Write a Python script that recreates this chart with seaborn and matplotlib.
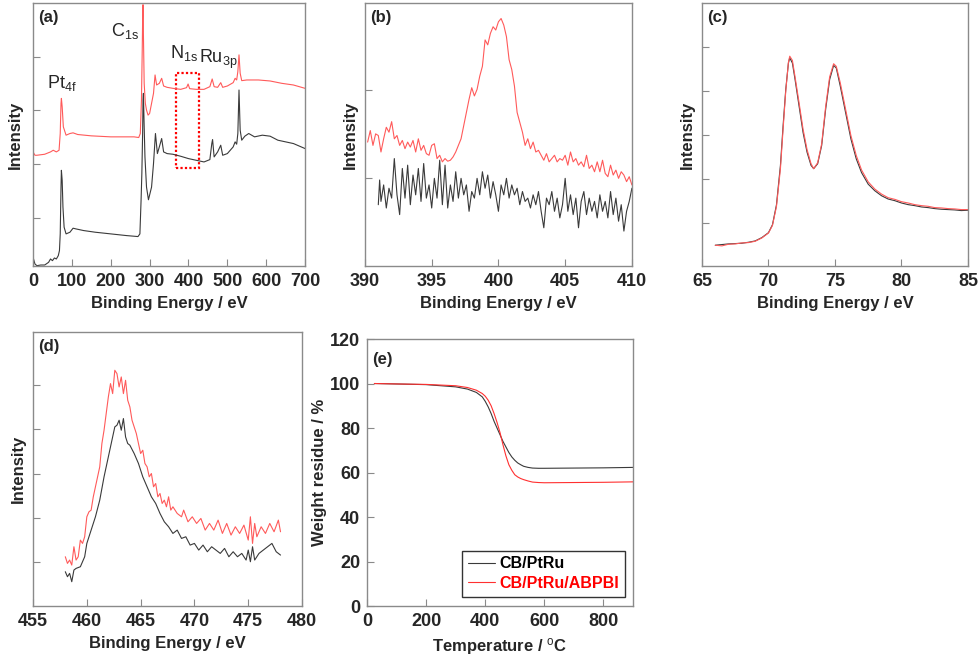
import numpy as np
import pandas as pd
import matplotlib
matplotlib.use("Agg")
import matplotlib.pyplot as plt
import seaborn as sns
from matplotlib.patches import Rectangle

sns.set_style("white")
plt.rcParams['font.family'] = ['Liberation Sans', 'DejaVu Sans']
plt.rcParams['mathtext.fontset'] = 'custom'
plt.rcParams['mathtext.rm'] = 'Liberation Sans'
plt.rcParams['mathtext.it'] = 'Liberation Sans'

BLACK = '#3a3a3a'
RED = '#ff5a5a'

# %% (a) survey spectra
a_x_black = [0, 5, 10, 20, 30, 40, 45, 50, 55, 60, 65, 68, 70, 72, 73, 75, 77, 80, 85, 95, 103, 110, 130, 160,
             200, 240, 270, 275, 278, 280, 282, 283, 284, 286, 288, 292, 297, 305, 310, 315, 320, 325, 331, 336,
             345, 360, 380, 400, 420, 440, 455, 460, 462, 466, 475, 483, 488, 500, 515, 520, 524, 527, 530, 533,
             537, 545, 555, 570, 590, 610, 630, 650, 670, 690, 700]
a_y_black = [230, 210, 205, 207, 207, 215, 225, 220, 228, 225, 235, 250, 300, 440, 490, 460, 380, 320, 300, 305,
             317, 315, 310, 305, 300, 295, 292, 300, 400, 480, 600, 700, 720, 620, 530, 440, 402, 440, 510, 600,
             540, 560, 585, 545, 540, 538, 532, 525, 520, 515, 522, 570, 582, 530, 545, 565, 535, 540, 560, 575,
             568, 600, 730, 610, 580, 592, 600, 590, 595, 592, 580, 575, 570, 560, 555]
a_x_red = [0, 5, 10, 30, 45, 52, 60, 67, 70, 72, 73, 75, 78, 85, 95, 103, 115, 150, 200, 260, 272, 276, 279, 281,
           282, 283, 284, 286, 289, 292, 296, 300, 305, 310, 314, 318, 325, 331, 336, 345, 360, 380, 395, 399, 403,
           420, 440, 455, 461, 466, 475, 483, 488, 500, 515, 520, 524, 527, 530, 533, 537, 550, 580, 610, 640, 670,
           700]
a_y_red = [545, 535, 535, 538, 545, 550, 545, 550, 600, 690, 705, 680, 620, 595, 600, 602, 597, 593, 590, 590, 588,
           600, 700, 850, 940, 985, 900, 750, 690, 670, 655, 660, 690, 720, 775, 745, 750, 765, 742, 738, 735, 732,
           737, 748, 734, 732, 732, 740, 763, 740, 738, 752, 738, 742, 752, 765, 760, 785, 835, 780, 758, 760, 760,
           757, 750, 745, 735]
n1s_box = [369, 426, 497, 782]  # x0, x1, y0, y1 of the dotted box

# %% (b) N1s
b_x_red = [390.2, 390.4, 390.6, 390.8, 391.0, 391.2, 391.4, 391.6, 391.8, 392.0, 392.2, 392.4, 392.6, 392.8, 393.0,
           393.2, 393.4, 393.6, 393.8, 394.0, 394.2, 394.4, 394.6, 394.8, 395.0, 395.2, 395.4, 395.6, 395.8, 396.0,
           396.2, 396.4, 396.6, 396.8, 397.0, 397.2, 397.4, 397.6, 397.8, 398.0, 398.2, 398.4, 398.6, 398.8, 399.0,
           399.2, 399.4, 399.6, 399.8, 400.0, 400.2, 400.4, 400.6, 400.8, 401.0, 401.2, 401.4, 401.6, 401.8, 402.0,
           402.2, 402.4, 402.6, 402.8, 403.0, 403.2, 403.4, 403.6, 403.8, 404.0, 404.2, 404.4, 404.6, 404.8, 405.0,
           405.2, 405.4, 405.6, 405.8, 406.0, 406.2, 406.4, 406.6, 406.8, 407.0, 407.2, 407.4, 407.6, 407.8, 408.0,
           408.2, 408.4, 408.6, 408.8, 409.0, 409.2, 409.4, 409.6, 409.8, 410.0]
b_y_red = [570, 605, 560, 595, 590, 540, 580, 615, 600, 632, 580, 590, 560, 575, 550, 570, 555, 575, 540, 580,
           545, 560, 535, 530, 560, 565, 520, 530, 510, 520, 512, 515, 525, 540, 560, 580, 620, 660, 700, 735,
           710, 730, 770, 800, 880, 865, 900, 920, 910, 935, 945, 925, 890, 820, 790, 740, 660, 630, 600, 560,
           580, 550, 570, 540, 545, 530, 515, 535, 510, 520, 530, 510, 520, 515, 530, 500, 540, 510, 520, 500,
           510, 495, 530, 490, 500, 480, 510, 480, 515, 475, 465, 500, 470, 485, 460, 480, 470, 450, 465, 440]
b_x_black = [391.0, 391.1, 391.2, 391.4, 391.6, 391.8, 392.0, 392.2, 392.4, 392.6, 392.8, 393.0, 393.2, 393.4,
             393.6, 393.8, 394.0, 394.2, 394.4, 394.6, 394.8, 395.0, 395.2, 395.4, 395.6, 395.8, 396.0, 396.2,
             396.4, 396.6, 396.8, 397.0, 397.2, 397.4, 397.6, 397.8, 398.0, 398.2, 398.4, 398.6, 398.8, 399.0,
             399.2, 399.4, 399.6, 399.8, 400.0, 400.2, 400.4, 400.6, 400.8, 401.0, 401.2, 401.4, 401.6, 401.8,
             402.0, 402.2, 402.4, 402.6, 402.8, 403.0, 403.2, 403.4, 403.6, 403.8, 404.0, 404.2, 404.4, 404.6,
             404.8, 405.0, 405.2, 405.4, 405.6, 405.8, 406.0, 406.2, 406.4, 406.6, 406.8, 407.0, 407.2, 407.4,
             407.6, 407.8, 408.0, 408.2, 408.4, 408.6, 408.8, 409.0, 409.2, 409.4, 409.6, 409.8, 410.0]
b_y_black = [380, 455, 390, 440, 370, 430, 400, 520, 410, 350, 490, 400, 500, 380, 470, 410, 490, 390, 505, 400,
             440, 370, 460, 400, 515, 380, 500, 370, 440, 390, 480, 400, 460, 410, 440, 360, 420, 400, 460, 410,
             480, 430, 470, 400, 450, 410, 360, 440, 410, 460, 400, 440, 410, 430, 380, 420, 390, 400, 370, 410,
             380, 420, 360, 310, 400, 380, 420, 360, 400, 340, 380, 460, 360, 410, 350, 400, 310, 390, 420, 350,
             400, 360, 390, 340, 410, 360, 390, 340, 420, 350, 400, 330, 380, 300, 360, 390, 430]

# %% (c) Pt4f
c_x = [66.0, 66.5, 67.0, 67.5, 68.0, 68.5, 69.0, 69.5, 70.0, 70.3, 70.6, 70.9, 71.1, 71.3, 71.5, 71.6, 71.8, 72.0,
       72.3, 72.6, 72.9, 73.2, 73.4, 73.7, 74.0, 74.3, 74.6, 74.9, 75.1, 75.4, 75.8, 76.2, 76.6, 77.0, 77.5, 78.0,
       78.5, 79.0, 79.5, 80.0, 80.5, 81.0, 81.5, 82.0, 82.5, 83.0, 83.5, 84.0, 84.5, 85.0]
c_y_black = [258, 260, 262, 263, 264, 267, 271, 281, 296, 320, 380, 500, 620, 730, 810, 826, 810, 760, 680, 600,
             540, 500, 490, 505, 560, 670, 760, 803, 795, 740, 660, 580, 520, 478, 443, 423, 408, 398, 393, 386,
             381, 378, 374, 372, 369, 367, 366, 365, 363, 364]
c_y_red = [258, 256, 261, 262, 265, 266, 270, 280, 295, 318, 375, 490, 610, 725, 812, 831, 818, 768, 690, 610,
           548, 505, 490, 508, 565, 678, 768, 808, 800, 750, 670, 590, 530, 486, 450, 428, 413, 402, 397, 390,
           386, 381, 378, 376, 372, 371, 369, 368, 366, 366]

# %% (d) Ru3p
d_x_red = [458.0, 458.2, 458.4, 458.6, 458.8, 459.0, 459.2, 459.4, 459.6, 459.8, 460.0, 460.2, 460.4, 460.6, 460.8,
           461.0, 461.2, 461.4, 461.6, 461.8, 462.0, 462.2, 462.4, 462.6, 462.8, 463.0, 463.2, 463.4, 463.6, 463.8,
           464.0, 464.2, 464.4, 464.6, 464.8, 465.0, 465.2, 465.4, 465.6, 465.8, 466.0, 466.2, 466.4, 466.6, 466.8,
           467.0, 467.2, 467.4, 467.6, 467.8, 468.0, 468.4, 468.8, 469.0, 469.4, 469.8, 470.2, 470.6, 471.0, 471.4,
           471.8, 472.2, 472.6, 473.0, 473.4, 473.8, 474.2, 474.6, 475.0, 475.2, 475.4, 475.6, 475.8, 476.2, 476.6,
           477.0, 477.4, 477.8, 478.0]
d_y_red = [320, 300, 310, 295, 350, 310, 320, 370, 360, 380, 440, 455, 460, 500, 530, 560, 590, 660, 700, 750,
           800, 840, 810, 880, 870, 830, 860, 810, 850, 790, 770, 730, 710, 690, 660, 630, 640, 600, 590, 560,
           570, 530, 540, 500, 510, 480, 490, 470, 500, 460, 470, 450, 440, 460, 425, 440, 420, 435, 400, 420,
           400, 430, 390, 420, 385, 410, 390, 415, 370, 440, 360, 420, 380, 410, 390, 420, 395, 430, 395]
d_x_black = [458.0, 458.2, 458.4, 458.6, 458.8, 459.0, 459.4, 459.6, 459.8, 460.0, 460.4, 460.8, 461.2, 461.6,
             462.0, 462.4, 462.6, 462.8, 463.0, 463.2, 463.4, 463.6, 463.8, 464.0, 464.4, 464.8, 465.2, 465.6,
             466.0, 466.4, 466.8, 467.2, 467.6, 468.0, 468.4, 468.8, 469.2, 469.6, 470.0, 470.4, 470.8, 471.2,
             471.6, 472.0, 472.4, 472.8, 473.2, 473.6, 474.0, 474.4, 474.8, 475.0, 475.2, 475.4, 475.6, 476.0,
             476.4, 476.8, 477.2, 477.6, 478.0]
d_y_black = [275, 260, 270, 245, 280, 285, 290, 305, 320, 360, 400, 440, 490, 560, 620, 680, 710, 715, 730, 700,
             735, 680, 660, 655, 630, 600, 560, 530, 500, 480, 450, 425, 410, 390, 400, 375, 380, 355, 360, 340,
             355, 335, 350, 340, 330, 345, 320, 335, 320, 330, 310, 340, 305, 350, 310, 330, 340, 350, 360, 335,
             325]

# %% (e) TGA
e_temp = [25, 100, 200, 250, 300, 340, 370, 390, 400, 410, 420, 430, 440, 450, 460, 470, 480, 490, 500, 510, 520,
          530, 545, 560, 580, 600, 700, 800, 900]
e_black = [100, 99.8, 99.5, 99.0, 98.5, 97.5, 96, 94, 92, 89.5, 86.5, 83, 80, 77, 74, 71.5, 69, 67, 65.5, 64.3,
           63.5, 62.8, 62.3, 62.0, 61.9, 61.9, 62.0, 62.1, 62.3]
e_red = [100, 99.8, 99.6, 99.3, 99.0, 98.2, 97, 95.5, 94.3, 92.5, 90, 86.5, 82.5, 78, 72.5, 67.5, 63.5, 61, 59,
         58, 57.3, 56.8, 56.2, 55.7, 55.5, 55.4, 55.5, 55.6, 55.8]
e_labels = ['CB/PtRu', 'CB/PtRu/ABPBI']

fig = plt.figure(figsize=(9.8, 6.56), dpi=100)
ax_a = fig.add_axes([0.0337, 0.5945, 0.2776, 0.4009])
ax_b = fig.add_axes([0.3724, 0.5945, 0.2724, 0.4009])
ax_c = fig.add_axes([0.7163, 0.5945, 0.2714, 0.4009])
ax_d = fig.add_axes([0.0337, 0.0762, 0.2745, 0.4177])
ax_e = fig.add_axes([0.3745, 0.0762, 0.2714, 0.4070])

lw = 0.8


def style(ax, xlabel, ylabel, tag, tag_y=0.975, ypad=4):
    for s in ax.spines.values():
        s.set_color('#8a8a8a')
        s.set_linewidth(1.0)
    ax.tick_params(direction='in', length=5, width=0.8, color='#8a8a8a',
                   labelsize=13, pad=5, bottom=True, left=True, top=False, right=False)
    for t in ax.get_xticklabels() + ax.get_yticklabels():
        t.set_fontweight('bold')
    ax.set_xlabel(xlabel, fontsize=12, fontweight='bold', labelpad=4)
    ax.set_ylabel(ylabel, fontsize=12, fontweight='bold', labelpad=ypad)
    ax.text(0.02, tag_y, tag, transform=ax.transAxes, fontsize=12, fontweight='bold',
            va='top', ha='left')


def spectrum(ax, x, y, color):
    sns.lineplot(x=x, y=y, ax=ax, color=color, lw=lw, sort=False, estimator=None)


# (a)
spectrum(ax_a, a_x_black, a_y_black, BLACK)
spectrum(ax_a, a_x_red, a_y_red, RED)
ax_a.add_patch(Rectangle((n1s_box[0], n1s_box[2]), n1s_box[1] - n1s_box[0], n1s_box[3] - n1s_box[2],
                         fill=False, edgecolor='red', linestyle=(0, (1, 1)), lw=1.6))
ax_a.set_xlim(0, 700)
ax_a.set_ylim(204, 990)
ax_a.set_xticks(np.arange(0, 701, 100))
ax_a.set_yticks([347, 510, 670, 830])
ax_a.set_yticklabels([])
ax_a.text(36, 735, r'Pt$_{\rm 4f}$', fontsize=13, va='baseline')
ax_a.text(200, 890, r'C$_{\rm 1s}$', fontsize=13, va='baseline')
ax_a.text(353, 825, r'N$_{\rm 1s}$', fontsize=13, va='baseline')
ax_a.text(427, 810, r'Ru$_{\rm 3p}$', fontsize=13, va='baseline')
style(ax_a, 'Binding Energy / eV', 'Intensity', '(a)', ypad=2)

# (b)
spectrum(ax_b, b_x_red, b_y_red, RED)
spectrum(ax_b, b_x_black, b_y_black, BLACK)
ax_b.set_xlim(390, 410)
ax_b.set_ylim(194, 992)
ax_b.set_xticks(np.arange(390, 411, 5))
ax_b.set_yticks([460, 727])
ax_b.set_yticklabels([])
style(ax_b, 'Binding Energy / eV', 'Intensity', '(b)', ypad=0)

# (c)
spectrum(ax_c, c_x, c_y_black, BLACK)
spectrum(ax_c, c_x, c_y_red, RED)
ax_c.set_xlim(65, 85)
ax_c.set_ylim(195, 992)
ax_c.set_xticks(np.arange(65, 86, 5))
ax_c.set_yticks([326, 459, 592, 725, 860])
ax_c.set_yticklabels([])
style(ax_c, 'Binding Energy / eV', 'Intensity', '(c)', ypad=0)

# (d)
spectrum(ax_d, d_x_red, d_y_red, RED)
spectrum(ax_d, d_x_black, d_y_black, BLACK)
ax_d.set_xlim(455, 480)
ax_d.set_ylim(172, 995)
ax_d.set_xticks(np.arange(455, 481, 5))
ax_d.set_yticks([303, 437, 570, 703, 837])
ax_d.set_yticklabels([])
style(ax_d, 'Binding Energy / eV', 'Intensity', '(d)', ypad=0)

# (e)
tga = pd.DataFrame({'T': e_temp * 2, 'W': e_black + e_red,
                    'sample': [e_labels[0]] * len(e_temp) + [e_labels[1]] * len(e_temp)})
sns.lineplot(data=tga, x='T', y='W', hue='sample', palette=[BLACK, '#ff3030'], lw=lw, ax=ax_e,
             estimator=None)
ax_e.set_xlim(0, 900)
ax_e.set_ylim(0, 120)
ax_e.set_xticks(np.arange(0, 900, 200))
ax_e.set_yticks(np.arange(0, 121, 20))
style(ax_e, r'Temperature / $^{\rm o}$C', 'Weight residue / %', '(e)', tag_y=0.95, ypad=2)
leg = ax_e.legend(loc='lower right', bbox_to_anchor=(0.97, 0.035), frameon=True, fancybox=False,
                  prop={'weight': 'bold', 'size': 11.5}, handlelength=1.7,
                  borderpad=0.35, labelspacing=0.3, handletextpad=0.3, borderaxespad=0)
leg.get_frame().set_edgecolor('black')
leg.get_frame().set_linewidth(1.0)
leg.get_texts()[0].set_color('black')
leg.get_texts()[1].set_color('red')

fig.savefig('out.png', dpi=100)
